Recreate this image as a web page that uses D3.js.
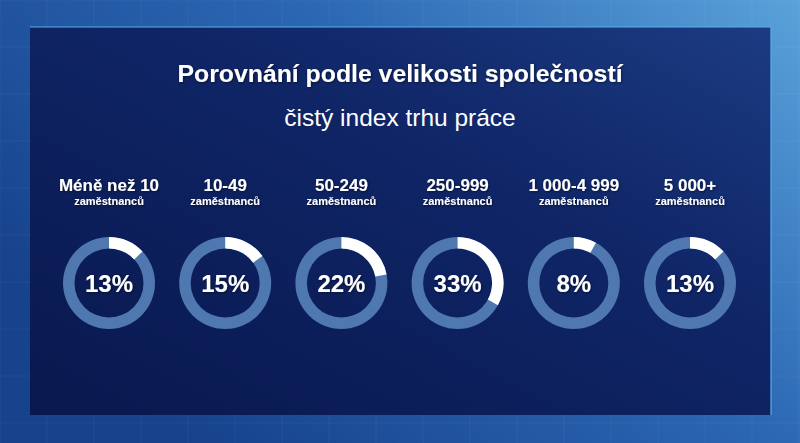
<!DOCTYPE html>
<html>
<head>
<meta charset="utf-8">
<script src="https://cdn.jsdelivr.net/npm/d3@7"></script>
<style>
  html, body { margin: 0; padding: 0; background: #1a4a95; }
  svg { display: block; font-family: "Liberation Sans", Arial, sans-serif; }
</style>
</head>
<body>
<svg id="chart" width="800" height="443"></svg>
<script>
// Categories (company size) and net labour market index values (%)
var sizes = ["Méně než 10", "10-49", "50-249", "250-999", "1 000-4 999", "5 000+"];
var subLabels = ["zaměstnanců", "zaměstnanců", "zaměstnanců", "zaměstnanců", "zaměstnanců", "zaměstnanců"];
var values = [13, 15, 22, 33, 8, 13];

var title = "Porovnání podle velikosti společností",
    subtitle = "čistý index trhu práce";

var W = 800, H = 443;
var panel = {left: 30, top: 27, right: 771, bottom: 415};

var svg = d3.select("#chart");
var defs = svg.append("defs");

// outer background gradient
var bg = defs.append("linearGradient").attr("id", "bg")
  .attr("x1", 0).attr("y1", 0.6).attr("x2", 1).attr("y2", 0);
bg.append("stop").attr("offset", "0%").attr("stop-color", "#17428c");
bg.append("stop").attr("offset", "55%").attr("stop-color", "#2c68b4");
bg.append("stop").attr("offset", "100%").attr("stop-color", "#5aa2da");

// panel gradient
var pg = defs.append("linearGradient").attr("id", "pg")
  .attr("x1", 0).attr("y1", 1).attr("x2", 1).attr("y2", 0);
pg.append("stop").attr("offset", "0%").attr("stop-color", "#09184e");
pg.append("stop").attr("offset", "60%").attr("stop-color", "#0f2566");
pg.append("stop").attr("offset", "100%").attr("stop-color", "#1c3b82");

// soft text shadow
var sh = defs.append("filter").attr("id", "shadow")
  .attr("x", "-10%").attr("y", "-30%").attr("width", "120%").attr("height", "160%");
sh.append("feDropShadow").attr("dx", 0.8).attr("dy", 0.8).attr("stdDeviation", 0.8)
  .attr("flood-color", "#000820").attr("flood-opacity", 0.7);

svg.append("rect").attr("width", W).attr("height", H).attr("fill", "url(#bg)");

// faint background grid
var gx = d3.range(0, W, 47), gy = d3.range(0, H, 47);
svg.append("g").attr("stroke", "#ffffff").attr("stroke-opacity", 0.05)
  .selectAll("line.v").data(gx).enter().append("line")
  .attr("x1", function(d) { return d; }).attr("x2", function(d) { return d; })
  .attr("y1", 0).attr("y2", H);
svg.append("g").attr("stroke", "#ffffff").attr("stroke-opacity", 0.05)
  .selectAll("line.h").data(gy).enter().append("line")
  .attr("y1", function(d) { return d; }).attr("y2", function(d) { return d; })
  .attr("x1", 0).attr("x2", W);

// panel
svg.append("rect")
  .attr("x", panel.left).attr("y", panel.top)
  .attr("width", panel.right - panel.left).attr("height", panel.bottom - panel.top)
  .attr("fill", "url(#pg)");

// light edge along the top and right of the panel
svg.append("path")
  .attr("d", "M" + panel.left + "," + panel.top + "H" + panel.right + "V" + panel.bottom)
  .attr("fill", "none")
  .attr("stroke", "#58b0ea").attr("stroke-width", 1.2);

// titles
svg.append("text")
  .attr("x", 400).attr("y", 82)
  .attr("text-anchor", "middle").attr("fill", "#ffffff")
  .attr("font-size", 24.8).attr("font-weight", "bold")
  .attr("filter", "url(#shadow)")
  .text(title);

svg.append("text")
  .attr("x", 400).attr("y", 126)
  .attr("text-anchor", "middle").attr("fill", "#ffffff")
  .attr("font-size", 24.5)
  .text(subtitle);

// scales
var x = d3.scalePoint()
  .domain(sizes)
  .range([109, 690]);

var angle = d3.scaleLinear()
  .domain([0, 100])
  .range([0, 2 * Math.PI]);

var arc = d3.arc()
  .innerRadius(34.5)
  .outerRadius(46);

var cy = 283;

var item = svg.append("g")
  .selectAll("g")
  .data(sizes)
  .enter()
  .append("g")
  .attr("transform", function(d) { return "translate(" + x(d) + ",0)"; });

// category labels
item.append("text")
  .attr("y", 191)
  .attr("text-anchor", "middle").attr("fill", "#ffffff")
  .attr("font-size", 17).attr("font-weight", "bold")
  .attr("filter", "url(#shadow)")
  .text(function(d) { return d; });

item.append("text")
  .attr("y", 205)
  .attr("text-anchor", "middle").attr("fill", "#ffffff")
  .attr("font-size", 11).attr("font-weight", "bold")
  .attr("filter", "url(#shadow)")
  .text(function(d, i) { return subLabels[i]; });

// donut track
item.append("path")
  .attr("transform", "translate(0," + cy + ")")
  .attr("fill", "#4f77b0")
  .attr("d", arc({startAngle: 0, endAngle: 2 * Math.PI}));

// value arc
item.append("path")
  .attr("transform", "translate(0," + cy + ")")
  .attr("fill", "#ffffff")
  .attr("d", function(d, i) { return arc({startAngle: 0, endAngle: angle(values[i])}); });

// value text
item.append("text")
  .attr("y", cy + 9)
  .attr("text-anchor", "middle").attr("fill", "#ffffff")
  .attr("font-size", 24).attr("font-weight", "bold")
  .attr("filter", "url(#shadow)")
  .text(function(d, i) { return values[i] + "%"; });
</script>
</body>
</html>
